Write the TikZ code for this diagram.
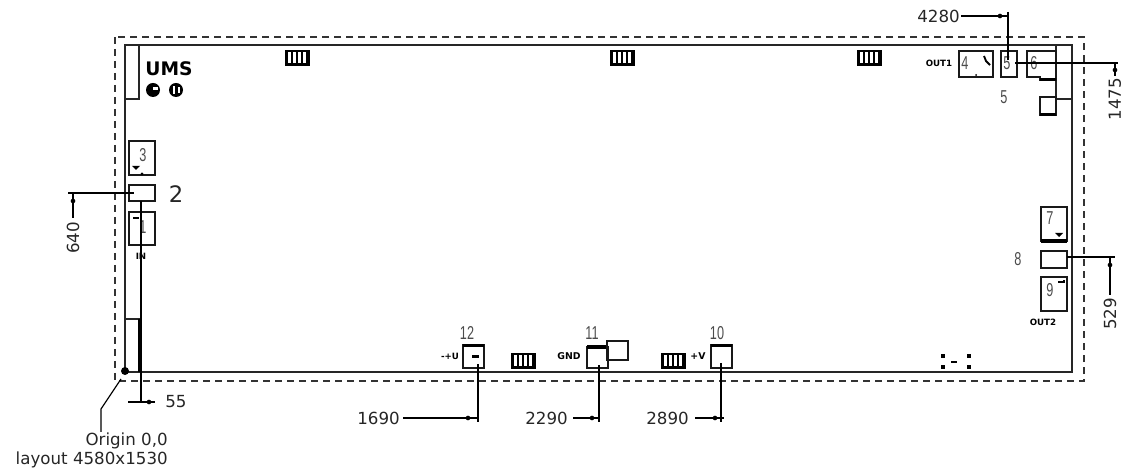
\documentclass[tikz,border=0pt]{standalone}
\usepackage{fontspec}
\setmainfont{DejaVu Sans}
\newfontfamily\thinfont{Liberation Sans}
\tikzset{
  outline/.style={line width=1.2pt,draw=black!85},
  padbox/.style={line width=1.4pt,draw=black!90},
  thickbar/.style={line width=2.4pt},
  dimline/.style={line width=.9pt},
  dimdot/.style={fill=black,inner sep=0pt,minimum size=3.5pt,circle},
  dimtext/.style={font=\fontsize{12.5}{14}\selectfont,text=black!85,inner sep=0pt},
  padnum/.style={font=\thinfont\fontsize{14}{16}\selectfont,text=black!70,inner sep=0pt,xscale=.68},
  tinytext/.style={font=\bfseries\fontsize{6.5}{7}\selectfont,inner sep=0pt},
}
\begin{document}
\begin{tikzpicture}[x=.75pt,y=-.75pt]
\useasboundingbox (0,0) rectangle (1125,473);
\draw[line width=1.2pt,draw=black!80,dash pattern=on 5.2pt off 3.8pt] (115,37) rectangle (1084,381);
\draw[outline] (125,45) rectangle (1072,372);
\draw[outline] (125,99) -- (139,99) -- (139,45);
\draw[outline] (125,319) -- (140,319);
\draw[thickbar] (140,319) -- (140,372);
\draw[outline] (1056,45) -- (1056,115);
\draw[outline] (1056,99) -- (1072,99);
\foreach \x/\y in {285/50,610/50,857/50,511/353,661/353} {
  \fill (\x,\y) rectangle ++(25,16);
  \foreach \i in {0,1,2,3}
    \fill[white] (\x+2.5+\i*5.3,\y+2.5) rectangle ++(3,11);
}
\node[font=\bfseries\fontsize{14}{15}\selectfont,inner sep=0pt] (logo) at (169,69) {UMS};
\fill (153,90) circle (7);
\fill (176,90) circle (7);
\fill[white] (153,87) rectangle (158,90);
\fill[white] (173,86) rectangle (175,94);
\fill[white] (178,87) rectangle (180,93);
\draw[padbox] (129,141) rectangle (155,175);
\node[padnum] (num3) at (143,155) {3};
\fill (132,166) -- (140,166) -- (136,170) -- cycle;
\fill (142,174) circle (1.5);
\draw[padbox] (129,185) rectangle (155,201);
\node[font=\fontsize{17}{18}\selectfont,inner sep=0pt,text=black!85] (num2) at (176,194) {2};
\draw[padbox] (129,212) rectangle (155,245);
\node[padnum] (num1) at (143,227) {1};
\draw[line width=1.6pt] (133,218) -- (139,218);
\node[tinytext] (lblin) at (141,256) {IN};
\draw[dimline] (68,193) -- (134,193);
\draw[dimline] (73,193) -- (73,218);
\node[dimdot] (dot640) at (73,201) {};
\node[dimtext,rotate=90] (dim640) at (73,238) {640};
\draw[dimline] (141,201) -- (141,403);
\draw[dimline] (128,402) -- (155,402);
\node[dimdot] (dot55) at (149,402) {};
\node[dimtext,anchor=west] (dim55) at (165,402) {55};
\fill (125,371) circle (4);
\draw[dimline] (121,379) -- (101,409) -- (101,432);
\node[dimtext,anchor=east] (origin) at (168,441) {Origin 0,0};
\node[dimtext,anchor=east] (layout) at (168,460) {layout 4580x1530};
\draw[padbox] (463,345) rectangle (484,368);
\draw[thickbar] (463,345.5) -- (484,345.5);
\fill (472,355) rectangle (479,358);
\draw[padbox] (587,347) rectangle (608,368);
\draw[thickbar] (587,347) -- (608,347);
\draw[padbox] (607,341) rectangle (628,360);
\draw[padbox] (711,345) rectangle (732,368);
\draw[thickbar] (711,345.5) -- (732,345.5);
\node[padnum] (num12) at (467,333) {12};
\node[padnum] (num11) at (592,333) {11};
\node[padnum] (num10) at (717,333) {10};
\node[tinytext] (lblneg) at (450,356) {-+U};
\node[tinytext,font=\bfseries\fontsize{7}{8}\selectfont] (lblgnd) at (569,356) {GND};
\node[tinytext,font=\bfseries\fontsize{7}{8}\selectfont] (lblpos) at (698,356) {+V};
\draw[dimline] (478,364) -- (478,422);
\draw[dimline] (403,418) -- (478,418);
\node[dimdot] (dot1690) at (468,418) {};
\node[dimtext,anchor=east] (dim1690) at (400,418) {1690};
\draw[dimline] (599,365) -- (599,422);
\draw[dimline] (573,418) -- (599,418);
\node[dimdot] (dot2290) at (592,418) {};
\node[dimtext,anchor=east] (dim2290) at (568,418) {2290};
\draw[dimline] (721,363) -- (721,422);
\draw[dimline] (695,418) -- (724,418);
\node[dimdot] (dot2890) at (715,418) {};
\node[dimtext,anchor=east] (dim2890) at (689,418) {2890};
\node[tinytext] (lblout1) at (939,63) {OUT1};
\draw[padbox] (959,51) rectangle (993,77);
\node[padnum] (num4) at (965,63) {4};
\draw[line width=1.4pt] (984,56) -- (986,61) -- (990,65);
\fill (976,75) circle (1);
\draw[padbox] (1001,51) rectangle (1017,77);
\node[padnum] (num5in) at (1007,63) {5};
\draw[padbox] (1027,51) -- (1056,51) -- (1056,80) -- (1040,80) -- (1040,77) -- (1027,77) -- cycle;
\draw[thickbar] (1040,79.5) -- (1056,79.5);
\node[padnum] (num6) at (1034,63) {6};
\draw[padbox] (1040,97) rectangle (1056,115);
\draw[thickbar] (1040,114.5) -- (1056,114.5);
\node[padnum] (num5) at (1004,97) {5};
\draw[dimline] (961,16) -- (1008,16);
\draw[dimline] (1008,12) -- (1008,60);
\node[dimdot] (dot4280) at (1000,16) {};
\node[dimtext,anchor=east] (dim4280) at (960,16) {4280};
\draw[dimline] (1015,63) -- (1118,63);
\draw[dimline] (1115,63) -- (1115,76);
\node[dimdot] (dot1475) at (1115,70) {};
\node[dimtext,rotate=90] (dim1475) at (1115,99) {1475};
\draw[padbox] (1041,207) rectangle (1067,241);
\draw[thickbar] (1041,241) -- (1067,241);
\node[padnum] (num7) at (1050,218) {7};
\fill (1055,233) -- (1063,233) -- (1059,237) -- cycle;
\draw[padbox] (1041,251) rectangle (1067,268);
\node[padnum] (num8) at (1018,259) {8};
\draw[padbox] (1041,277) rectangle (1067,311);
\node[padnum] (num9) at (1050,290) {9};
\draw[line width=1.4pt] (1058,282) -- (1064,282) -- (1064,280);
\node[tinytext] (lblout2) at (1043,322) {OUT2};
\draw[dimline] (1067,257) -- (1115,257);
\draw[line width=1.2pt] (1110,257) -- (1110,295);
\node[dimdot] (dot529) at (1110,265) {};
\node[dimtext,rotate=90] (dim529) at (1110,314) {529};
\foreach \x/\y in {943/356,969/356,943/367,969/367}
  \fill (\x-1.8,\y-1.8) rectangle ++(3.6,3.6);
\draw[line width=1pt] (951,362) -- (957,362);
\end{tikzpicture}
\end{document}
